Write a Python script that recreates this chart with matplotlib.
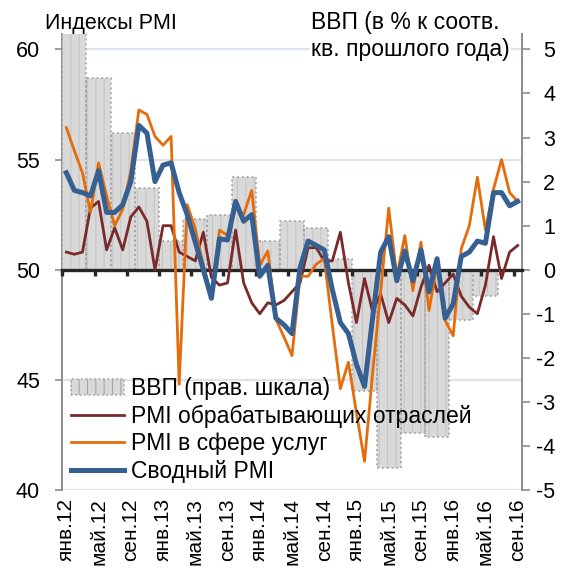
import matplotlib
matplotlib.use('Agg')
import matplotlib.pyplot as plt
from matplotlib.patches import Patch
from matplotlib.lines import Line2D
import numpy as np

plt.rcParams['font.family'] = ['Liberation Sans', 'DejaVu Sans']
plt.rcParams['hatch.linewidth'] = 0.8
plt.rcParams['axes.unicode_minus'] = False

# ---------------- data ----------------
month_labels = ['янв.12', 'май.12', 'сен.12', 'янв.13', 'май.13', 'сен.13',
                'янв.14', 'май.14', 'сен.14', 'янв.15', 'май.15', 'сен.15',
                'янв.16', 'май.16', 'сен.16']

# quarterly GDP, % y/y (right scale), 2012Q1 .. 2016Q2
gdp = [5.4, 4.35, 3.1, 1.85, 0.65, 1.15, 1.25, 2.1, 0.65, 1.1, 0.95, 0.25,
       -2.75, -4.5, -3.7, -3.8, -1.15, -0.6]

# monthly PMI, Jan 2012 .. Sep 2016
pmi_mfg = [50.8, 50.7, 50.8, 52.8, 53.1, 50.9, 51.9, 50.9, 52.4, 52.85, 52.2, 50.0,
           52.0, 52.0, 50.8, 50.6, 50.4, 51.7, 49.65, 49.3, 49.4, 51.8, 49.4, 48.5,
           48.0, 48.5, 48.4, 48.6, 49.0, 49.4, 51.0, 51.0, 50.4, 50.4, 51.7, 49.4,
           47.6, 49.6, 48.1, 48.9, 47.6, 48.7, 48.4, 47.9, 49.2, 50.2, 49.0, 49.4,
           49.8, 48.8, 48.3, 48.0, 49.3, 51.5, 49.6, 50.8, 51.1]

pmi_serv = [56.45, 55.4, 54.4, 52.6, 54.85, 53.35, 52.0, 52.75, 54.5, 57.25, 57.05, 56.05,
            55.65, 56.05, 44.8, 52.95, 51.85, 50.2, 48.75, 51.8, 51.55, 52.8, 52.5, 53.6,
            50.2, 50.85, 47.75, 46.95, 46.1, 49.7, 49.7, 50.25, 50.5, 47.5, 44.6, 45.8,
            43.5, 41.3, 45.3, 49.0, 52.8, 49.7, 51.55, 49.05, 51.25, 48.15, 50.25, 47.7,
            47.0, 50.95, 52.0, 54.2, 51.8, 53.65, 55.0, 53.5, 53.1]

pmi_comp = [54.4, 53.6, 53.5, 53.35, 54.5, 52.6, 52.6, 52.95, 54.0, 56.55, 56.2, 54.0,
            54.75, 54.85, 53.5, 52.5, 51.25, 50.0, 48.7, 51.4, 51.35, 53.1, 52.2, 52.5,
            49.7, 50.2, 47.8, 47.5, 47.1, 50.1, 51.3, 51.1, 50.9, 49.1, 47.6, 47.1,
            45.7, 44.7, 47.8, 50.8, 51.5, 49.5, 50.85, 49.5, 50.9, 49.0, 50.5, 47.8,
            48.45, 50.6, 50.8, 51.3, 51.2, 53.5, 53.5, 52.9, 53.1]

series_labels = ['ВВП (прав. шкала)', 'PMI обрабатывающих отраслей',
                 'PMI в сфере услуг', 'Сводный PMI']

# ---------------- styles ----------------
C_MFG = '#7a2a2a'
C_SERV = '#e46c0a'
C_COMP = '#376092'
C_BAR = '#d9d9d9'
C_BAR_EDGE = '#a6a6a6'
C_GRID = '#dde3ec'
C_SPINE = '#8c8c8c'
C_ZERO = '#262626'
FS = 15.5
FS_BIG = 16.5

W, H = 565, 568
fig = plt.figure(figsize=(W / 100, H / 100), dpi=100)
x0, x1 = 62.3, 521.7
ytop, ybot = 34.0, 490.0
pos = [x0 / W, 1 - ybot / H, (x1 - x0) / W, (ybot - ytop) / H]

n = len(pmi_mfg)
months = np.arange(n)
xlim = (-0.5, n - 0.5)

# base axes: grid, left scale, x labels
ax = fig.add_axes(pos)
ax.set_xlim(*xlim)
ax.set_ylim(40, 60.7)
ax.set_yticks([40, 45, 50, 55, 60])
ax.yaxis.grid(True, color=C_GRID, lw=1.6)
ax.set_axisbelow(True)
for s in ['top', 'right', 'bottom']:
    ax.spines[s].set_visible(False)
ax.spines['left'].set_color(C_SPINE)
ax.spines['left'].set_linewidth(1.4)
ax.tick_params(axis='y', direction='out', length=5, width=1.2, color=C_SPINE,
               labelsize=FS, pad=11)
tick_idx = np.arange(0, n, 4)
ax.set_xticks(tick_idx)
ax.set_xticklabels(month_labels, rotation=90, fontsize=15, va='top', ha='center')
ax.tick_params(axis='x', length=0, pad=6)

# right axes: GDP bars
ax2 = ax.twinx()
ax2.set_ylim(-5, 5.35)
ax2.set_yticks(np.arange(-5, 6))
for s in ['top', 'left', 'bottom']:
    ax2.spines[s].set_visible(False)
ax2.spines['right'].set_color(C_SPINE)
ax2.spines['right'].set_linewidth(1.4)
ax2.tick_params(axis='y', direction='out', length=6, width=1.2, color=C_SPINE,
                labelsize=FS, pad=18)
for lab in ax2.get_yticklabels():
    lab.set_horizontalalignment('right')
q_centers = np.arange(len(gdp)) * 3 + 1
ax2.bar(q_centers, gdp, width=3, color=C_BAR, hatch='||', edgecolor='#c6c6c6',
        linewidth=0, zorder=1)
ax2.bar(q_centers, gdp, width=3, fill=False, edgecolor=C_BAR_EDGE,
        linestyle=':', linewidth=1.3, zorder=2)

# top axes: zero line and PMI lines
axl = fig.add_axes(pos)
axl.patch.set_visible(False)
axl.set_xlim(*xlim)
axl.set_ylim(40, 60.7)
for s in ['top', 'left', 'right']:
    axl.spines[s].set_visible(False)
axl.spines['bottom'].set_position(('data', 50))
axl.spines['bottom'].set_color(C_ZERO)
axl.spines['bottom'].set_linewidth(2.4)
axl.set_xticks(np.arange(-0.5, n - 1, 4))
axl.tick_params(axis='x', direction='out', length=4, width=2.4, color=C_ZERO,
                labelbottom=False)
axl.tick_params(axis='y', left=False, labelleft=False)

axl.plot(months, pmi_mfg, color=C_MFG, lw=2.0, solid_joinstyle='round', zorder=3)
axl.plot(months, pmi_serv, color=C_SERV, lw=2.0, solid_joinstyle='round', zorder=4)
axl.plot(months, pmi_comp, color=C_COMP, lw=3.6, solid_joinstyle='round', zorder=5)

handles = [Patch(facecolor=C_BAR, edgecolor=C_BAR_EDGE, hatch='||', linestyle=':', linewidth=1.2),
           Line2D([], [], color=C_MFG, lw=2.0),
           Line2D([], [], color=C_SERV, lw=2.0),
           Line2D([], [], color=C_COMP, lw=3.6)]
axl.legend(handles, series_labels, loc='upper left',
           bbox_to_anchor=(71 / W, 1 - 377 / H), bbox_transform=fig.transFigure,
           frameon=False, fontsize=FS_BIG, handlelength=2.3, handletextpad=0.3,
           labelspacing=0.2, borderpad=0, borderaxespad=0)

# titles
fig.text(45 / W, 1 - 29 / H, 'Индексы PMI', fontsize=FS, ha='left', va='baseline')
fig.text(311 / W, 1 - 29 / H, 'ВВП (в % к соотв.', fontsize=FS_BIG, ha='left', va='baseline',
         bbox=dict(facecolor='white', edgecolor='none', pad=1))
fig.text(311 / W, 1 - 56 / H, 'кв. прошлого года)', fontsize=FS_BIG, ha='left', va='baseline',
         bbox=dict(facecolor='white', edgecolor='none', pad=1))

fig.savefig('out.png', dpi=100)
